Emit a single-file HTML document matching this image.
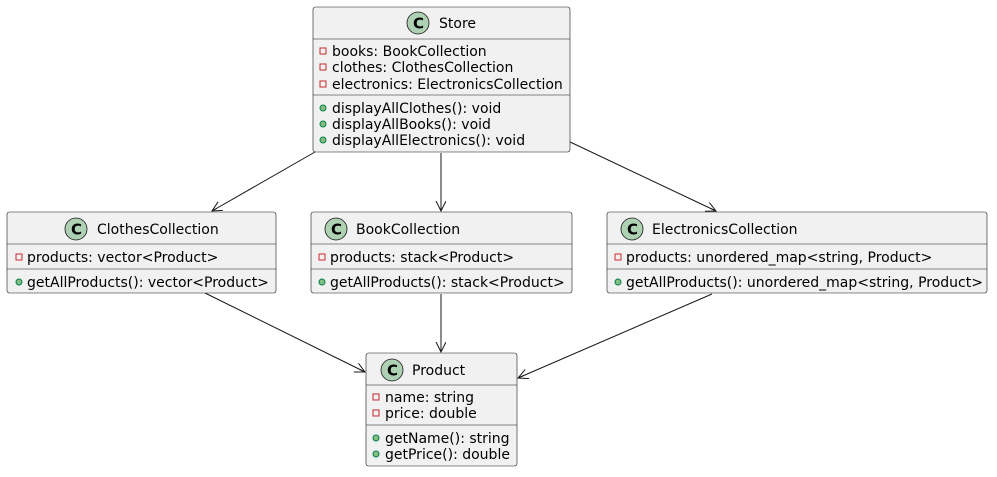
<!DOCTYPE html>
<html><head><style>
body{margin:0;background:#fff}
svg text{font-family:"DejaVu Sans","Liberation Sans",sans-serif;font-size:14px;fill:#000}
.b{fill:#F1F1F1;stroke:#181818;stroke-width:0.6}
.d{stroke:#181818;stroke-width:0.6}
.l{stroke:#181818;stroke-width:1;fill:none}
.c{fill:#ADD1B2;stroke:#181818;stroke-width:0.8}
.ct{font-weight:bold;font-size:15px}
.pv{fill:none;stroke:#C82930;stroke-width:1}
.pb{fill:#84BE84;stroke:#038048;stroke-width:1}
</style></head><body>
<svg width="997" height="472" xmlns="http://www.w3.org/2000/svg">
<defs><marker id="a" markerWidth="12" markerHeight="12" refX="10" refY="5" orient="auto" markerUnits="userSpaceOnUse"><path d="M0,0 L10,5 L0,10 M10,5 L4,5" fill="none" stroke="#181818" stroke-width="1"/></marker></defs>
<!-- connectors -->
<line class="l" x1="315" y1="152" x2="212" y2="211" marker-end="url(#a)"/>
<line class="l" x1="441" y1="153" x2="441" y2="211" marker-end="url(#a)"/>
<line class="l" x1="568" y1="141" x2="716" y2="211" marker-end="url(#a)"/>
<line class="l" x1="205" y1="293" x2="365" y2="372" marker-end="url(#a)"/>
<line class="l" x1="441" y1="294" x2="441" y2="352" marker-end="url(#a)"/>
<line class="l" x1="712" y1="294" x2="518" y2="378" marker-end="url(#a)"/>
<!-- Store -->
<rect class="b" x="313" y="7" width="257" height="145" rx="2.5"/>
<line class="d" x1="313" y1="39" x2="570" y2="39"/><line class="d" x1="313" y1="95" x2="570" y2="95"/>
<circle class="c" cx="418" cy="23" r="11"/><text class="ct" x="413" y="28.5">C</text>
<text x="439" y="28">Store</text>
<rect class="pv" x="320" y="48" width="6" height="6"/><text x="332" y="56">books: BookCollection</text>
<rect class="pv" x="320" y="64" width="6" height="6"/><text x="332" y="72">clothes: ClothesCollection</text>
<rect class="pv" x="320" y="81" width="6" height="6"/><text x="332" y="89">electronics: ElectronicsCollection</text>
<circle class="pb" cx="323" cy="108" r="3"/><text x="332" y="113">displayAllClothes(): void</text>
<circle class="pb" cx="323" cy="124" r="3"/><text x="332" y="129">displayAllBooks(): void</text>
<circle class="pb" cx="323" cy="140" r="3"/><text x="332" y="145">displayAllElectronics(): void</text>
<!-- Clothes -->
<rect class="b" x="7" y="212" width="269" height="81" rx="2.5"/>
<line class="d" x1="7" y1="244" x2="276" y2="244"/><line class="d" x1="7" y1="269" x2="276" y2="269"/>
<circle class="c" cx="76" cy="229" r="11"/><text class="ct" x="71" y="234.5">C</text>
<text x="97" y="234">ClothesCollection</text>
<rect class="pv" x="16" y="254" width="6" height="6"/><text x="27" y="262">products: vector&lt;Product&gt;</text>
<circle class="pb" cx="19" cy="282" r="3"/><text x="27" y="287">getAllProducts(): vector&lt;Product&gt;</text>
<!-- Book -->
<rect class="b" x="311" y="212" width="261" height="81" rx="2.5"/>
<line class="d" x1="311" y1="244" x2="572" y2="244"/><line class="d" x1="311" y1="269" x2="572" y2="269"/>
<circle class="c" cx="336" cy="229" r="11"/><text class="ct" x="331" y="234.5">C</text>
<text x="356" y="234">BookCollection</text>
<rect class="pv" x="319" y="254" width="6" height="6"/><text x="330" y="262">products: stack&lt;Product&gt;</text>
<circle class="pb" cx="322" cy="282" r="3"/><text x="330" y="287">getAllProducts(): stack&lt;Product&gt;</text>
<!-- Electronics -->
<rect class="b" x="607" y="212" width="380" height="81" rx="2.5"/>
<line class="d" x1="607" y1="244" x2="987" y2="244"/><line class="d" x1="607" y1="269" x2="987" y2="269"/>
<circle class="c" cx="632" cy="229" r="11"/><text class="ct" x="627" y="234.5">C</text>
<text x="652" y="234">ElectronicsCollection</text>
<rect class="pv" x="615" y="254" width="6" height="6"/><text x="626" y="262">products: unordered_map&lt;string, Product&gt;</text>
<circle class="pb" cx="618" cy="282" r="3"/><text x="626" y="287">getAllProducts(): unordered_map&lt;string, Product&gt;</text>
<!-- Product -->
<rect class="b" x="366" y="353" width="151" height="113" rx="2.5"/>
<line class="d" x1="366" y1="385" x2="517" y2="385"/><line class="d" x1="366" y1="425" x2="517" y2="425"/>
<circle class="c" cx="392" cy="370" r="11"/><text class="ct" x="387" y="375.5">C</text>
<text x="412" y="375">Product</text>
<rect class="pv" x="373" y="394" width="6" height="6"/><text x="385" y="402">name: string</text>
<rect class="pv" x="373" y="410" width="6" height="6"/><text x="385" y="418">price: double</text>
<circle class="pb" cx="376" cy="438" r="3"/><text x="385" y="443">getName(): string</text>
<circle class="pb" cx="376" cy="454" r="3"/><text x="385" y="459">getPrice(): double</text>
</svg>
</body></html>
